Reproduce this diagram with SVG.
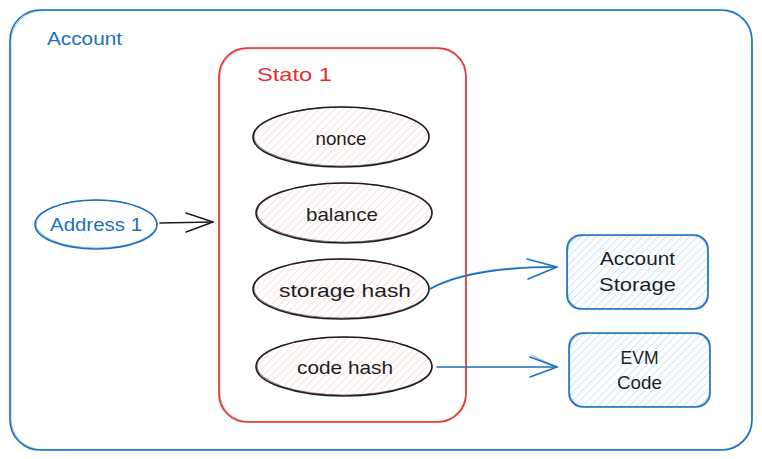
<svg xmlns="http://www.w3.org/2000/svg" width="762" height="459" viewBox="0 0 762 459">
<style>
text{font-family:"Liberation Sans",Arial,sans-serif;font-size:19px}
.blue{fill:#1971c2}
.red{fill:#e03131}
.dark{fill:#1e1e1e}
.bs{fill:none;stroke:#1971c2;stroke-width:1.6;stroke-linecap:round;stroke-linejoin:round}
.bf{fill:url(#hBlue);stroke:#1971c2;stroke-width:1.6}
.rs{fill:none;stroke:#e03131;stroke-width:1.6}
.ks{stroke:#1e1e1e;stroke-width:1.6}
.ghost{opacity:0.55;stroke-width:1}
</style>
<defs>
<pattern id="hRed" patternUnits="userSpaceOnUse" width="5.5" height="5.5" patternTransform="rotate(45)">
<line x1="0" y1="0" x2="0" y2="5.5" stroke="#ffc9c9" stroke-width="1.2"/>
</pattern>
<pattern id="hBlue" patternUnits="userSpaceOnUse" width="5.5" height="5.5" patternTransform="rotate(45)">
<line x1="0" y1="0" x2="0" y2="5.5" stroke="#a5d8ff" stroke-width="1.2"/>
</pattern>
</defs>
<rect width="762" height="459" fill="#ffffff"/>

<g id="account">
<rect x="10" y="10" width="742" height="440" rx="30" class="bs"/>
<rect x="10.8" y="10.6" width="741" height="439" rx="31" class="bs ghost"/>
<text x="47" y="45" class="blue" textLength="75" lengthAdjust="spacingAndGlyphs">Account</text>
</g>

<g id="stato1">
<rect x="219" y="48" width="247" height="374" rx="28" class="rs"/>
<rect x="219.7" y="48.6" width="246" height="373" rx="29" class="rs ghost"/>
<text x="257" y="81" class="red" textLength="75" lengthAdjust="spacingAndGlyphs">Stato 1</text>
</g>

<g id="address1">
<ellipse cx="96" cy="224.5" rx="61" ry="24.5" class="bs"/>
<ellipse cx="96.6" cy="224" rx="60.5" ry="24" class="bs ghost"/>
<text x="96" y="231" class="blue" text-anchor="middle" textLength="92" lengthAdjust="spacingAndGlyphs">Address 1</text>
</g>

<g id="nonce">
<ellipse cx="341" cy="137" rx="88" ry="30" fill="url(#hRed)" class="ks"/>
<ellipse cx="341.6" cy="136.5" rx="87.5" ry="29.5" fill="none" class="ks ghost"/>
<text x="341" y="145" class="dark" text-anchor="middle" textLength="51" lengthAdjust="spacingAndGlyphs">nonce</text>
</g>

<g id="balance">
<ellipse cx="344" cy="213" rx="88" ry="30" fill="url(#hRed)" class="ks"/>
<ellipse cx="344.6" cy="212.5" rx="87.5" ry="29.5" fill="none" class="ks ghost"/>
<text x="342" y="221" class="dark" text-anchor="middle" textLength="72" lengthAdjust="spacingAndGlyphs">balance</text>
</g>

<g id="storagehash">
<ellipse cx="341" cy="289" rx="88" ry="30" fill="url(#hRed)" class="ks"/>
<ellipse cx="341.6" cy="288.5" rx="87.5" ry="29.5" fill="none" class="ks ghost"/>
<text x="345" y="297" class="dark" text-anchor="middle" textLength="132" lengthAdjust="spacingAndGlyphs">storage hash</text>
</g>

<g id="codehash">
<ellipse cx="344" cy="366.5" rx="88" ry="29.5" fill="url(#hRed)" class="ks"/>
<ellipse cx="344.6" cy="366" rx="87.5" ry="29" fill="none" class="ks ghost"/>
<text x="345" y="374" class="dark" text-anchor="middle" textLength="96" lengthAdjust="spacingAndGlyphs">code hash</text>
</g>

<g id="accountstorage">
<rect x="567" y="235" width="141" height="74" rx="14" class="bf"/>
<rect x="567.6" y="235.6" width="140" height="73" rx="15" class="bs ghost"/>
<text x="637.5" y="265" class="dark" text-anchor="middle" textLength="75" lengthAdjust="spacingAndGlyphs">Account</text>
<text x="637.5" y="291" class="dark" text-anchor="middle" textLength="77" lengthAdjust="spacingAndGlyphs">Storage</text>
</g>

<g id="evmcode">
<rect x="569" y="333" width="141" height="74" rx="14" class="bf"/>
<rect x="569.6" y="333.6" width="140" height="73" rx="15" class="bs ghost"/>
<text x="639.5" y="364" class="dark" text-anchor="middle" textLength="38" lengthAdjust="spacingAndGlyphs">EVM</text>
<text x="639.5" y="389" class="dark" text-anchor="middle" textLength="45" lengthAdjust="spacingAndGlyphs">Code</text>
</g>

<g id="connectors">
<path d="M160,223 L213,222" fill="none" stroke="#1e1e1e" stroke-width="1.6" stroke-linecap="round"/>
<path d="M186,213 L213,222 L186,232" fill="none" stroke="#1e1e1e" stroke-width="1.6" stroke-linecap="round" stroke-linejoin="round"/>
<path d="M430,289 Q470,267 557,267" class="bs"/>
<path d="M430.5,288 Q470,266 556,266.5" class="bs ghost"/>
<path d="M527,259 L557,267 L528,279" class="bs"/>
<path d="M437,367 L557,367" class="bs"/>
<path d="M530,357 L557,367 L530,377" class="bs"/>
<path d="M531,355 L556,366.5" class="bs ghost"/>
</g>
</svg>
